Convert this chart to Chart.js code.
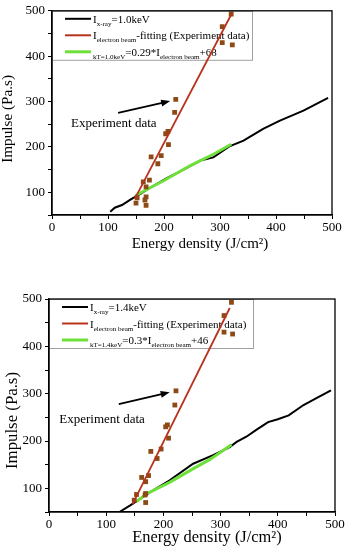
<!DOCTYPE html>
<html>
<head>
<meta charset="utf-8">
<script src="https://cdn.jsdelivr.net/npm/chart.js@4.4.1/dist/chart.umd.min.js"></script>
<style>
body { margin: 0; background: #fff; width: 350px; height: 550px; overflow: hidden; position: relative; }
canvas { position: absolute; left: 0; }
</style>
</head>
<body>
<canvas id="top" width="350" height="255" style="top:0;width:350px;height:255px"></canvas>
<canvas id="bottom" width="350" height="270" style="top:280px;width:350px;height:270px"></canvas>
<script>
// ---- top panel (1.0 keV) ----
const xray1X = [104, 112, 125, 140, 160, 175, 205, 235, 265, 288, 318, 342, 377, 407, 449, 493];
const xray1Y = [57, 66, 72, 84, 98, 110, 131, 150, 170, 177, 202, 214, 240, 258, 280, 308];
const kt1X = [149, 200, 247, 290, 320];
const kt1Y = [93, 126, 159, 185, 206];
const fit1X = [148, 321];
const fit1Y = [86, 494];
const exp1X = [320, 304, 304, 322, 221, 219, 207, 203, 208, 195, 189, 177, 174, 163, 168, 168, 166, 168, 150, 152];
const exp1Y = [493, 465, 430, 425, 305, 276, 234, 229, 205, 181, 163, 178, 127, 123, 112, 90, 83, 71, 76, 88];
const arrow1 = [[118, 275], [211, 301]];
const note1 = [34, 251];

// ---- bottom panel (1.4 keV) ----
const xray2X = [123, 142, 177, 211, 252, 287, 316, 328, 345, 363, 383, 400, 419, 445, 470, 493];
const xray2Y = [50, 64, 92, 117, 152, 170, 187, 198, 209, 224, 240, 246, 254, 276, 292, 307];
const kt2X = [153, 170, 210, 250, 280, 319];
const kt2Y = [72, 88, 112, 140, 160, 192];
const fit2X = [146, 316];
const fit2Y = [66, 481];
const exp2X = [319, 306, 306, 321, 222, 220, 207, 204, 209, 196, 189, 178, 174, 162, 169, 169, 168, 169, 149, 153];
const exp2Y = [493, 465, 430, 426, 306, 276, 234, 230, 206, 183, 163, 178, 127, 123, 114, 89, 86, 70, 75, 87];
const arrow2 = [[122, 278], [211, 303]];
const note2 = [18, 246];

const xMin = 0, xMax = 500, xStep = 50;
const yMin = 50, yMax = 500, yStep = 50;
const xTitle = 'Energy density (J/cm²)';
const yTitle = 'Impulse (Pa.s)';

const legend1 = [
    [{t: 'I'}, {t: 'x-ray', sub: true}, {t: '=1.0keV'}],
    [{t: 'I'}, {t: 'electron beam', sub: true}, {t: '-fitting (Experiment data)'}],
    [{t: 'kT=1.0keV', sub: true}, {t: '=0.29*I'}, {t: 'electron beam', sub: true}, {t: '+68'}]
];
const legend2 = [
    [{t: 'I'}, {t: 'x-ray', sub: true}, {t: '=1.4keV'}],
    [{t: 'I'}, {t: 'electron beam', sub: true}, {t: '-fitting (Experiment data)'}],
    [{t: 'kT=1.4keV', sub: true}, {t: '=0.3*I'}, {t: 'electron beam', sub: true}, {t: '+46'}]
];

const FONT = "'Liberation Serif', 'DejaVu Serif', serif";
const pts = (xs, ys) => xs.map((x, i) => ({x: x, y: ys[i]}));

function drawRich(ctx, x, y, parts, size) {
    parts.forEach(p => {
        const fs = p.sub ? size * 0.64 : size;
        ctx.font = fs + 'px ' + FONT;
        ctx.fillText(p.t, x, p.sub ? y + size * 0.28 : y);
        x += ctx.measureText(p.t).width;
    });
}

const legendPlugin = {
    id: 'boxLegend',
    beforeDatasetsDraw(chart, args, opts) {
        const ctx = chart.ctx, a = chart.chartArea;
        ctx.save();
        ctx.fillStyle = '#fff';
        ctx.strokeStyle = '#a0a0a0';
        ctx.lineWidth = 1;
        ctx.fillRect(a.left, a.top, opts.w, opts.h);
        ctx.strokeRect(a.left + 0.5, a.top + 0.5, opts.w, opts.h);
        opts.rows.forEach((row, i) => {
            const cy = a.top + opts.rowY[i];
            ctx.strokeStyle = opts.colors[i];
            ctx.lineWidth = opts.widths[i];
            ctx.beginPath();
            ctx.moveTo(a.left + 13, cy);
            ctx.lineTo(a.left + 39, cy);
            ctx.stroke();
            ctx.fillStyle = '#000';
            ctx.textBaseline = 'alphabetic';
            drawRich(ctx, a.left + 41, cy + 4, row, 11);
        });
        ctx.restore();
    },
    afterDatasetsDraw(chart, args, opts) {
        const ctx = chart.ctx, a = chart.chartArea;
        const sx = chart.scales.x, sy = chart.scales.y;
        ctx.save();
        ctx.strokeStyle = '#000';
        ctx.lineWidth = 1.3;
        ctx.strokeRect(a.left, a.top, a.right - a.left, a.bottom - a.top);
        // arrow
        const x0 = sx.getPixelForValue(opts.arrow[0][0]), y0 = sy.getPixelForValue(opts.arrow[0][1]);
        const x1 = sx.getPixelForValue(opts.arrow[1][0]), y1 = sy.getPixelForValue(opts.arrow[1][1]);
        const ang = Math.atan2(y1 - y0, x1 - x0);
        ctx.lineWidth = 1.8;
        ctx.beginPath();
        ctx.moveTo(x0, y0);
        ctx.lineTo(x1 - 6 * Math.cos(ang), y1 - 6 * Math.sin(ang));
        ctx.stroke();
        ctx.fillStyle = '#000';
        ctx.beginPath();
        ctx.moveTo(x1, y1);
        ctx.lineTo(x1 - 9 * Math.cos(ang) + 3.5 * Math.sin(ang), y1 - 9 * Math.sin(ang) - 3.5 * Math.cos(ang));
        ctx.lineTo(x1 - 9 * Math.cos(ang) - 3.5 * Math.sin(ang), y1 - 9 * Math.sin(ang) + 3.5 * Math.cos(ang));
        ctx.closePath();
        ctx.fill();
        ctx.font = '13px ' + FONT;
        ctx.textBaseline = 'middle';
        ctx.fillText('Experiment data', sx.getPixelForValue(opts.note[0]), sy.getPixelForValue(opts.note[1]));
        // axis titles
        const t = opts.titles;
        ctx.textAlign = 'center';
        ctx.font = t.xs + 'px ' + FONT;
        ctx.fillText(xTitle, (a.left + a.right) / 2 + t.xdx, t.xy);
        ctx.translate(t.yx, (a.top + a.bottom) / 2 + t.ydy);
        ctx.rotate(-Math.PI / 2);
        ctx.font = t.ys + 'px ' + FONT;
        ctx.fillText(yTitle, 0, 0);
        ctx.restore();
    }
};

function panel(id, d, lay) {
    return new Chart(document.getElementById(id).getContext('2d'), {
        type: 'scatter',
        data: {
            datasets: [
                {data: pts(d.fitX, d.fitY), showLine: true, borderColor: '#b8321c', borderWidth: 1.8, pointRadius: 0, order: 1},
                {data: pts(d.expX, d.expY), pointStyle: 'rect', pointRadius: 3.4, backgroundColor: '#8c4a16', borderColor: '#8c4a16', borderWidth: 0, order: 2},
                {data: pts(d.ktX, d.ktY), showLine: true, borderColor: '#6ee03a', borderWidth: 3, pointRadius: 0, order: 3},
                {data: pts(d.xrX, d.xrY), showLine: true, borderColor: '#000', borderWidth: 2, pointRadius: 0, order: 4}
            ]
        },
        options: {
            responsive: false,
            animation: false,
            layout: {padding: {top: lay.top, right: lay.right, left: 0, bottom: 0}},
            plugins: {
                legend: {display: false},
                tooltip: {enabled: false},
                boxLegend: {w: lay.legW, h: 49, rows: d.legend, rowY: [8, 24.5, 41],
                    colors: ['#000', '#b8321c', '#6ee03a'], widths: [2, 2, 3], arrow: d.arrow, note: d.note,
                    titles: lay.titles}
            },
            scales: {
                x: {
                    type: 'linear', min: xMin, max: xMax,
                    afterFit: s => { s.height = lay.xh; },
                    ticks: {stepSize: xStep, autoSkip: false, maxRotation: 0, padding: 1, color: '#000',
                        font: {family: FONT, size: 13},
                        callback: v => v % 100 === 0 ? v : ''},
                    grid: {drawOnChartArea: false, tickLength: 4, color: '#000'},
                    border: {color: '#000', width: 1.3}
                },
                y: {
                    type: 'linear', min: yMin, max: yMax,
                    afterFit: s => { s.width = lay.yw; },
                    ticks: {stepSize: yStep, autoSkip: false, padding: 3, color: '#000',
                        font: {family: FONT, size: 13},
                        callback: v => v % 100 === 0 ? v : ''},
                    grid: {drawOnChartArea: false, tickLength: 4, color: '#000'},
                    border: {color: '#000', width: 1.3}
                }
            }
        },
        plugins: [legendPlugin]
    });
}

panel('top', {xrX: xray1X, xrY: xray1Y, ktX: kt1X, ktY: kt1Y, fitX: fit1X, fitY: fit1Y,
    expX: exp1X, expY: exp1Y, arrow: arrow1, note: note1, legend: legend1},
    {top: 9, right: 18, xh: 40, yw: 52, legW: 200,
     titles: {xs: 15, xdx: 8, xy: 244, ys: 15.2, yx: 8, ydy: 6}});
panel('bottom', {xrX: xray2X, xrY: xray2Y, ktX: kt2X, ktY: kt2Y, fitX: fit2X, fitY: fit2Y,
    expX: exp2X, expY: exp2Y, arrow: arrow2, note: note2, legend: legend2},
    {top: 19, right: 15, xh: 38, yw: 49, legW: 204,
     titles: {xs: 16.4, xdx: 15, xy: 258, ys: 16.8, yx: 13, ydy: 15}});
</script>
</body>
</html>
